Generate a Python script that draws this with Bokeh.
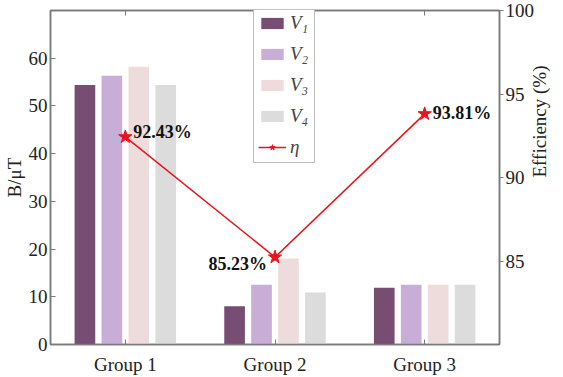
import math
from bokeh.plotting import figure
from bokeh.models import (Range1d, LinearAxis, FixedTicker, Legend, LegendItem,
                          ColumnDataSource, Label)
from bokeh.embed import file_html
from bokeh.resources import INLINE

groups = ["Group 1", "Group 2", "Group 3"]
v1 = [54.4, 8.0, 11.9]
v2 = [56.3, 12.5, 12.5]
v3 = [58.2, 18.0, 12.5]
v4 = [54.4, 10.9, 12.5]
eff = [92.43, 85.23, 93.81]
eff_labels = ["92.43%", "85.23%", "93.81%"]
series_names = ["V\u2081", "V\u2082", "V\u2083", "V\u2084"]
colors = ["#774d73", "#c8aed6", "#eedcdc", "#dcdcdc"]
red = "#e8141c"
left_title = "B/\u03bcT"
right_title = "Efficiency (%)"

FONT = "Liberation Serif"
AX = "#7a7a7a"

x = [1, 2, 3]

p = figure(width=563, height=377, output_backend="svg", toolbar_location=None,
           x_range=Range1d(0.5, 3.5), y_range=Range1d(0, 70),
           min_border_left=48, min_border_right=51, min_border_top=10,
           min_border_bottom=32)
p.outline_line_color = AX
p.outline_line_width = 1.5
p.grid.visible = False
p.background_fill_color = "white"

p.extra_y_ranges = {"eff": Range1d(80, 100)}

offsets = [-0.27, -0.09, 0.09, 0.27]
bars = []
for vals, off, c in zip([v1, v2, v3, v4], offsets, colors):
    src = ColumnDataSource(dict(x=[xi + off for xi in x], top=vals))
    r = p.vbar(x="x", top="top", width=0.138, source=src, fill_color=c,
               line_color=None)
    bars.append(r)

esrc = ColumnDataSource(dict(x=x, y=eff, t=eff_labels))
ln = p.line("x", "y", source=esrc, y_range_name="eff", line_color=red, line_width=1.5)
st = p.scatter("x", "y", source=esrc, y_range_name="eff", marker="star", size=14,
               fill_color=red, line_color=red)

label_offsets = [(8, 5, "left"), (-8, -7, "right"), (8, 1, "left")]
for xi, yi, t, (dx, dy, al) in zip(x, eff, eff_labels, label_offsets):
    p.add_layout(Label(x=xi, y=yi, y_range_name="eff", text=t, x_offset=dx, y_offset=dy,
                       text_font=FONT, text_font_style="bold", text_font_size="18px",
                       text_baseline="middle", text_align=al,
                       text_color="#111111"))

ya = p.yaxis[0]
ya.ticker = FixedTicker(ticks=[0, 10, 20, 30, 40, 50, 60])
ya.axis_label = left_title

xa = p.xaxis[0]
xa.ticker = FixedTicker(ticks=x)
xa.major_label_overrides = {1: groups[0], 2: groups[1], 3: groups[2]}

ra = LinearAxis(y_range_name="eff", ticker=FixedTicker(ticks=[85, 90, 95, 100]),
                axis_label=right_title)
p.add_layout(ra, "right")

ta = LinearAxis(ticker=FixedTicker(ticks=x))
p.add_layout(ta, "above")

for ax in [ya, xa, ra, ta]:
    ax.axis_line_color = AX
    ax.axis_line_width = 1.5
    ax.major_tick_line_color = AX
    ax.minor_tick_line_color = None
    ax.major_tick_in = 5
    ax.major_tick_out = 0
    ax.major_label_text_font = FONT
    ax.major_label_text_font_size = "19px"
    ax.major_label_text_color = "#222222"
    ax.axis_label_text_font = FONT
    ax.axis_label_text_font_size = "19px"
    ax.axis_label_text_font_style = "normal"
    ax.axis_label_text_color = "#222222"
    ax.major_label_standoff = 3
    ax.axis_label_standoff = 1
ra.major_tick_in = 0
ra.major_tick_out = 4
ra.major_label_standoff = 2
ra.axis_label_standoff = 2
ra.axis_label_orientation = math.pi / 2
ta.major_label_text_font_size = "0px"
ta.major_label_text_color = None
ta.major_label_standoff = 0
xa.major_label_standoff = 9

items = [LegendItem(label=n, renderers=[r]) for n, r in zip(series_names, bars)]
items.append(LegendItem(label="\u03b7", renderers=[ln, st]))
leg = Legend(items=items, location=(203, 181), glyph_width=28, glyph_height=14,
             label_text_font=FONT, label_text_font_style="italic",
             label_text_font_size="19px", spacing=9, padding=4, margin=0,
             label_standoff=4, border_line_color=AX, border_line_width=1,
             background_fill_alpha=1.0, label_height=20)
p.add_layout(leg, "center")

open("out.html", "w").write(file_html(p, INLINE))
